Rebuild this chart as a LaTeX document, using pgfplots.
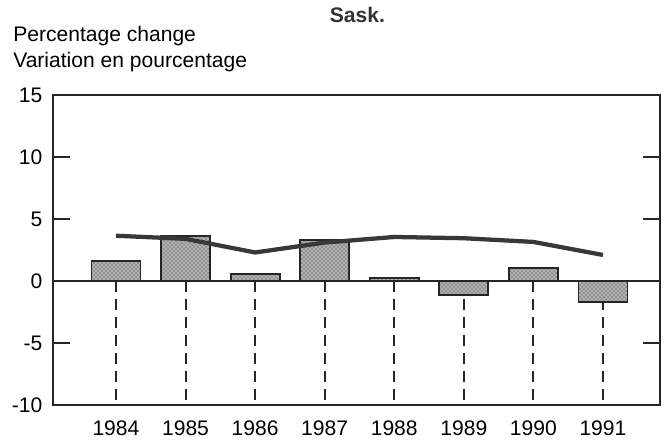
\documentclass[border=0pt]{standalone}
\usepackage{fontspec}
\setmainfont{Liberation Sans}
\usepackage{pgfplots}
\pgfplotsset{compat=1.18}
\usetikzlibrary{patterns}
\begin{document}
\begin{tikzpicture}[font=\fontsize{15.8pt}{19.5pt}\selectfont]
\begin{axis}[
  at={(39.75pt,30pt)}, anchor=south west,
  scale only axis, width=455.25pt, height=232.5pt,
  xmin=-0.905, xmax=7.82, ymin=-10, ymax=15,
  xtick={0,1,2,3,4,5,6,7},
  xticklabels={1984,1985,1986,1987,1988,1989,1990,1991},
  x tick style={draw=none},
  xticklabel style={yshift=-8pt},
  ytick={-10,-5,0,5,10,15},
  yticklabels={-10,-5,0,5,10,15},
  yticklabel style={xshift=-4.5pt},
  ytick pos=both, yticklabel pos=left,
  tick align=inside, major tick length=12.75pt,
  y tick style={line width=1.3pt, black!85},
  axis line style={line width=1.5pt, black!85},
  clip=false,
]
% dashed drop lines
\addplot[ycomb, no marks, line width=1.5pt, black!85, dash pattern=on 8pt off 5.5pt]
  coordinates {(0,-10) (1,-10) (2,-10) (3,-10) (4,-10) (5,-10) (6,-10) (7,-10)};
% zero line
\addplot[no marks, line width=1.5pt, black!85] coordinates {(-0.905,0) (7.82,0)};
% bars
\addplot[ybar, bar width=36.75pt, bar shift=0pt, fill=gray!60,
  postaction={pattern=crosshatch dots, pattern color=black!85},
  draw=black!85, line width=1.4pt]
  coordinates {(0,1.6) (1,3.6) (2,0.55) (3,3.3) (4,0.25) (5,-1.1) (6,1.05) (7,-1.7)};
% line
\addplot[no marks, line width=3.2pt, black!78, line join=round]
  coordinates {(0,3.65) (1,3.4) (2,2.3) (3,3.1) (4,3.55) (5,3.45) (6,3.15) (7,2.1)};
\end{axis}
\node[anchor=base, text=black!80] at (268.1pt,316.5pt) {\bfseries Sask.};
\node[anchor=base west, inner sep=0pt] at (9.75pt,302.25pt) {Percentage change};
\node[anchor=base west, inner sep=0pt] at (9.75pt,282.75pt) {Variation en pourcentage};
\pgfresetboundingbox
\path[use as bounding box] (0,0) rectangle (499.5pt,333.75pt);
\end{tikzpicture}
\end{document}
